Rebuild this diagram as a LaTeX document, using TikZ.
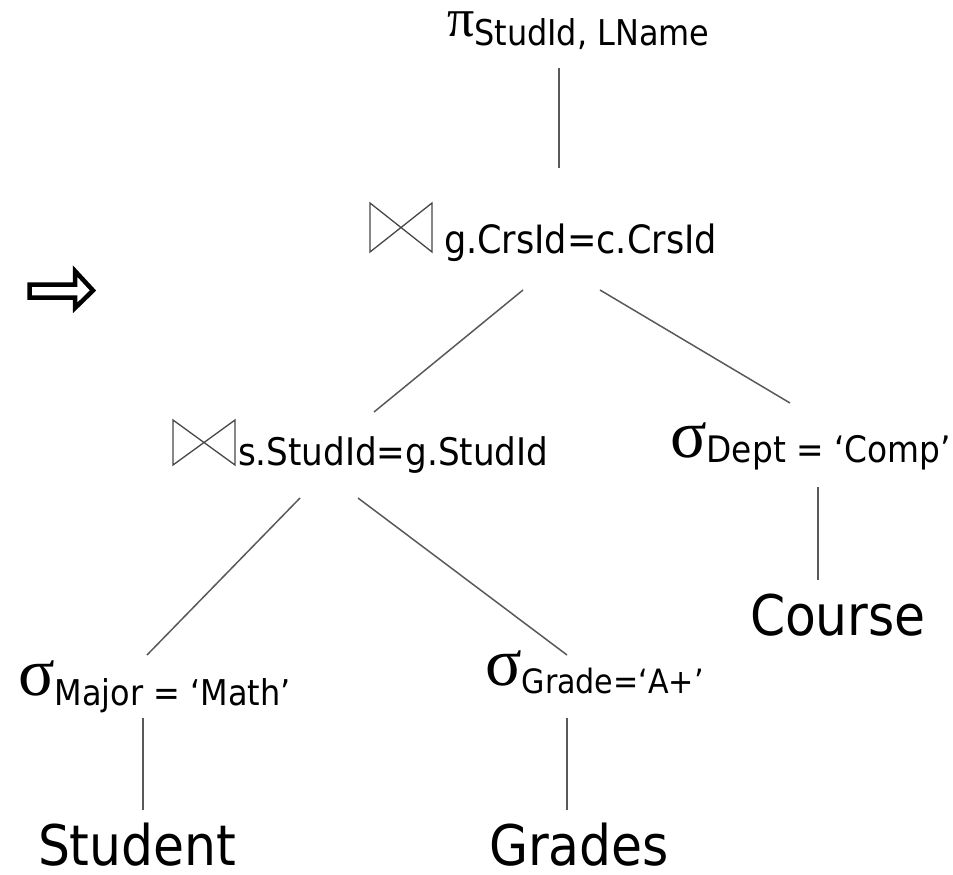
\documentclass[tikz,border=0pt]{standalone}
\usepackage{fontspec}
\setmainfont{DejaVu Sans Condensed}
\newfontfamily\grk{Liberation Serif}
\begin{document}
\begin{tikzpicture}[x=1pt,y=-1pt,
  lbl/.style={inner sep=0pt, outer sep=0pt, anchor=base west},
  edge/.style={draw=black!65, line width=1.5pt},
  tie/.style={draw=black!72, line width=1.3pt, line join=miter},
]
\useasboundingbox (0,0) rectangle (953,875);
% join symbol: top-left corner, width, height
\newcommand\jointie[4]{\draw[tie] (#1,#2) -- (#1,#2+#4) -- (#1+#3,#2) -- (#1+#3,#2+#4) -- cycle;}
\newcommand\opsz[1]{\grk\fontsize{#1}{#1}\selectfont}
\newcommand\txsz[1]{\fontsize{#1}{#1}\selectfont}

% projection
\node[lbl, text height=30pt] (pi) at (447,37) {{\opsz{54}π}\raisebox{-9pt}{\txsz{35.5}StudId, LName}};

% joins
\jointie{370}{203}{62}{49}
\node[lbl] (j1) at (444,253) {\txsz{39}g.CrsId=c.CrsId};
\jointie{173}{420}{62}{45}
\node[lbl] (j2) at (238,465) {\txsz{38}s.StudId=g.StudId};

% selections
\node[lbl] (sigD) at (670,457) {{\opsz{68}σ}\raisebox{-5pt}{\txsz{36.5}Dept = ‘Comp’}};
\node[lbl] (sigM) at (18,695) {{\opsz{68}σ}\raisebox{-10pt}{\txsz{35.5}Major = ‘Math’}};
\node[lbl] (sigG) at (485,685) {{\opsz{68}σ}\raisebox{-8pt}{\txsz{33.5}Grade=‘A+’}};

% relations
\node[lbl] (course)  at (750,635) {\txsz{56}Course};
\node[lbl, text depth=0pt] (student) at (38,865)  {\txsz{56}Student};
\node[lbl, text depth=0pt] (grades)  at (489,865) {\txsz{56}Grades};

% tree edges
\draw[edge] ([shift={(112,31)}]pi.base west) -- ([shift={(115,-85)}]j1.base west);
\draw[edge] ([shift={(79,37)}]j1.base west) -- ([shift={(136,-53)}]j2.base west);
\draw[edge] ([shift={(156,37)}]j1.base west) -- ([shift={(120,-54)}]sigD.base west);
\draw[edge] ([shift={(148,30)}]sigD.base west) -- ([shift={(68,-55)}]course.base west);
\draw[edge] ([shift={(62,33)}]j2.base west) -- ([shift={(129,-40)}]sigM.base west);
\draw[edge] ([shift={(120,33)}]j2.base west) -- ([shift={(82,-30)}]sigG.base west);
\draw[edge] ([shift={(125,23)}]sigM.base west) -- ([shift={(105,-55)}]student.base west);
\draw[edge] ([shift={(82,33)}]sigG.base west) -- ([shift={(78,-55)}]grades.base west);

% hollow arrow
\draw[line width=4.5pt, line join=miter, fill=white]
  (29.5,284.5) -- (75,284.5) -- (75,271) -- (93,290.5) -- (75,308) -- (75,297.5) -- (29.5,297.5) -- cycle;
\end{tikzpicture}
\end{document}
